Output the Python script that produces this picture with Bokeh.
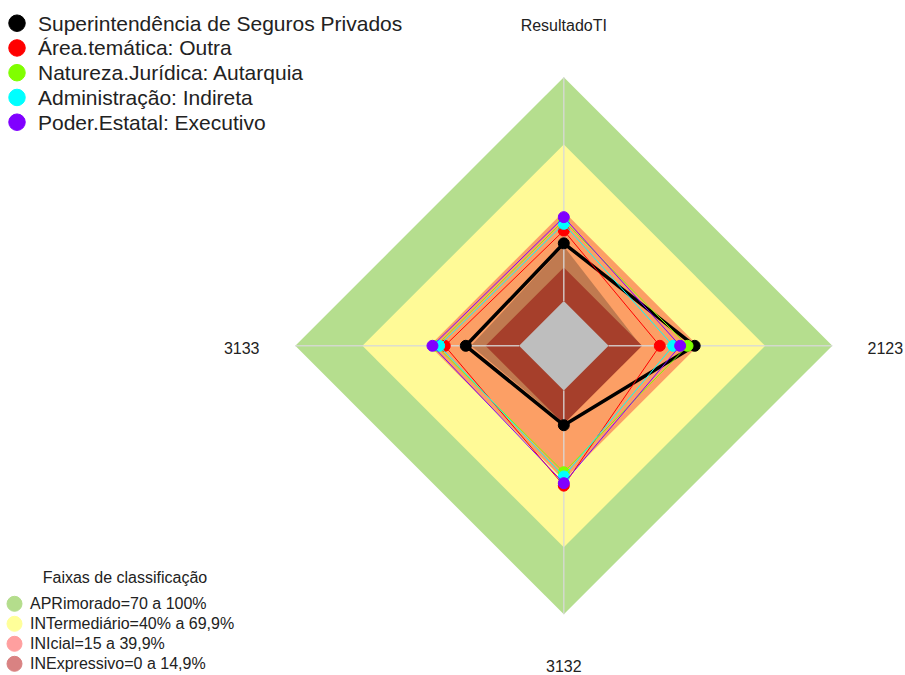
import numpy as np
from bokeh.plotting import figure
from bokeh.models import Range1d
from bokeh.core.properties import value
from bokeh.embed import file_html
from bokeh.resources import INLINE

# ---------------- data ----------------
axes_labels = ["ResultadoTI", "3133", "3132", "2123"]   # counter-clockwise from top

series_names = ["Superintendência de Seguros Privados", "Área.temática: Outra",
                "Natureza.Jurídica: Autarquia", "Administração: Indireta",
                "Poder.Estatal: Executivo"]
series_colors = ["#000000", "#FF0000", "#80FF00", "#00FFFF", "#8000FF"]

ssp_vals = [25.8, 23.8, 15.5, 38.5]
outra_vals = [31.5, 33.2, 42.5, 22.9]
autarquia_vals = [36.0, 37.0, 36.5, 35.3]
indireta_vals = [34.5, 35.7, 38.4, 28.9]
executivo_vals = [37.5, 38.7, 41.4, 32.0]
series_vals = [ssp_vals, outra_vals, autarquia_vals, indireta_vals, executivo_vals]

band_names = ["APRimorado=70 a 100%", "INTermediário=40% a 69,9%",
              "INIcial=15 a 39,9%", "INExpressivo=0 a 14,9%"]
band_limits = [100, 70, 40, 15]
band_fill = ["#b5de8e", "#fffa97", "#fc9f65", "#a63f2b"]
band_legend_colors = ["#b4dd8c", "#ffff99", "#ff9f9f", "#d98282"]
sombra_vals = [24.5, 21.5, 14.5, 14.5]
sombra_color = "#c07a50"
centro_color = "#bebebe"

legend_title = "Faixas de classificação"

# ---------------- geometry ----------------
R = 268.5
SEG = 5
CX, CY = 563.3, 345.3          # centre in page pixels
theta = np.deg2rad(90 + 90 * np.arange(len(axes_labels)))


def radar_xy(vals):
    v = np.asarray(vals, dtype=float) / 100.0
    r = R * (1.0 / (SEG + 1) + v * SEG / (SEG + 1))
    return list(r * np.cos(theta)), list(r * np.sin(theta))


def px(x):
    return x - CX


def py(y):
    return CY - y


W, H = 905, 675
p = figure(width=W, height=H, output_backend="svg", toolbar_location=None,
           x_range=Range1d(px(0), px(W)), y_range=Range1d(py(H), py(0)),
           min_border=0, outline_line_color=None, background_fill_color="white",
           border_fill_color="white")
p.axis.visible = False
p.grid.visible = False

# bands
for lim, col in zip(band_limits[:3], band_fill[:3]):
    xs, ys = radar_xy([lim] * 4)
    p.patch(xs, ys, fill_color=col, line_color=None)
xs, ys = radar_xy(sombra_vals)
p.patch(xs, ys, fill_color=sombra_color, line_color=None)
xs, ys = radar_xy([band_limits[3]] * 4)
p.patch(xs, ys, fill_color=band_fill[3], line_color=None)
xs, ys = radar_xy([0] * 4)
p.patch(xs, ys, fill_color=centro_color, line_color=None)

# axis lines
x0, y0 = radar_xy([0] * 4)
x1, y1 = radar_xy([100] * 4)
p.segment(x0, y0, x1, y1, line_color="#d8d8d8", line_width=1.5, line_alpha=0.85)

# series
for vals, col, nm in zip(series_vals, series_colors, series_names):
    xs, ys = radar_xy(vals)
    lw = 3.5 if col == "#000000" else 1
    p.line(xs + [xs[0]], ys + [ys[0]], line_color=col, line_width=lw)
    p.scatter(xs, ys, size=11, fill_color=col, line_color=col, marker="circle")

font = value("Liberation Sans")

# axis labels
p.text([px(563.3)], [py(25)], text=[axes_labels[0]], text_font=font, text_font_size="16px",
       text_align="center", text_baseline="middle", text_color="#222222")
p.text([px(867)], [py(347)], text=[axes_labels[3]], text_font=font, text_font_size="16px",
       text_align="left", text_baseline="middle", text_color="#222222")
p.text([px(259)], [py(347)], text=[axes_labels[1]], text_font=font, text_font_size="16px",
       text_align="right", text_baseline="middle", text_color="#222222")
p.text([px(563.3)], [py(665)], text=[axes_labels[2]], text_font=font, text_font_size="16px",
       text_align="center", text_baseline="middle", text_color="#222222")

# top legend
ly = [22.7 + 24.75 * i for i in range(len(series_names))]
p.scatter([px(16.5)] * len(ly), [py(y) for y in ly], size=16.5, fill_color=series_colors,
          line_color=series_colors, marker="circle")
p.text([px(37.5)] * len(ly), [py(y) for y in ly], text=series_names, text_font=font,
       text_font_size="21px", text_align="left", text_baseline="middle", text_color="#222222")

# bottom legend
p.text([px(124.5)], [py(576.5)], text=[legend_title], text_font=font, text_font_size="16px",
       text_align="center", text_baseline="middle", text_color="#222222")
by = [603.3 + 20 * i for i in range(len(band_names))]
p.scatter([px(14)] * len(by), [py(y) for y in by], size=15, fill_color=band_legend_colors,
          line_color=band_legend_colors, marker="circle")
p.text([px(29.5)] * len(by), [py(y) for y in by], text=band_names, text_font=font,
       text_font_size="16px", text_align="left", text_baseline="middle", text_color="#222222")

open("out.html", "w").write(file_html(p, INLINE))
